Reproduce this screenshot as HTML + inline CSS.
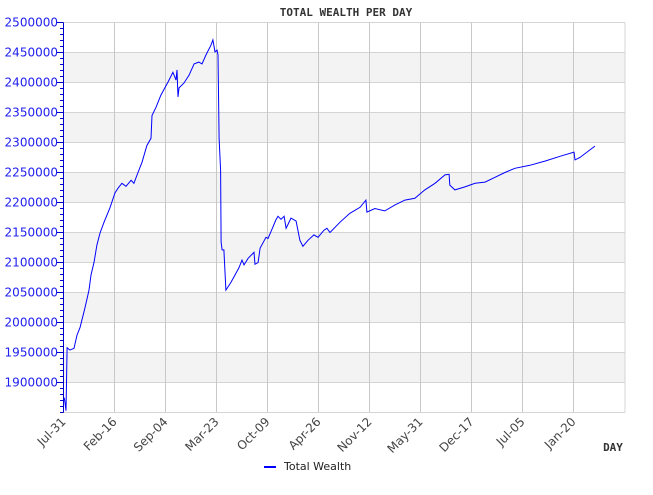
<!DOCTYPE html>
<html><head><meta charset="utf-8"><style>
body{margin:0;background:#fff;width:653px;height:495px;overflow:hidden}
svg{display:block;font-family:"DejaVu Sans","Liberation Sans",sans-serif}
</style></head><body>
<svg id="c" width="653" height="495"></svg>
<script>
const days=[0,4,10,14,25,41,53,65,84,100,108,120,131,143,159,182,202,214,229,245,265,276,292,308,327,343,347,363,382,410,429,441,445,449,453,472,492,512,531,543,559,578,586,594,602,606,610,616,618,622,629,637,657,688,700,708,724,747,751,763,771,794,802,814,833,841,853,865,873,892,912,927,939,959,982,998,1022,1033,1045,1084,1123,1163,1186,1190,1221,1260,1300,1339,1378,1417,1457,1496,1512,1515,1535,1574,1614,1653,1692,1731,1770,1829,1888,1947,2002,2006,2025,2084];
const wealth=[1870000,1873000,1853000,1958000,1954000,1957000,1979000,1992000,2024000,2054000,2079000,2101000,2129000,2149000,2167000,2191000,2216000,2224000,2232000,2227000,2237000,2232000,2250000,2267000,2295000,2307000,2345000,2359000,2379000,2401000,2417000,2404000,2421000,2376000,2391000,2399000,2412000,2431000,2434000,2431000,2446000,2462000,2471000,2451000,2454000,2446000,2307000,2254000,2134000,2121000,2121000,2054000,2067000,2091000,2104000,2096000,2107000,2117000,2097000,2100000,2124000,2142000,2140000,2152000,2171000,2177000,2172000,2177000,2157000,2174000,2169000,2137000,2127000,2137000,2146000,2142000,2154000,2157000,2150000,2167000,2182000,2192000,2204000,2184000,2190000,2186000,2196000,2204000,2207000,2221000,2232000,2246000,2247000,2229000,2221000,2226000,2232000,2234000,2242000,2250000,2257000,2262000,2269000,2277000,2284000,2271000,2275000,2294000];
const xLabels=["Jul-31","Feb-16","Sep-04","Mar-23","Oct-09","Apr-26","Nov-12","May-31","Dec-17","Jul-05","Jan-20"];
const yTicks=[1900000,1950000,2000000,2050000,2100000,2150000,2200000,2250000,2300000,2350000,2400000,2450000,2500000];
const L=63.5,R=625,T=22.5,B=412.5,yMin=1850000,yMax=2500000,dayStep=200;
const X=d=>L+d*51/dayStep;
const Y=v=>T+(yMax-v)/(yMax-yMin)*(B-T);
const s=document.getElementById('c');const NS='http://www.w3.org/2000/svg';
function el(t,a,p){const e=document.createElementNS(NS,t);for(const k in a)e.setAttribute(k,a[k]);(p||s).appendChild(e);return e;}
el('rect',{x:L,y:T,width:R-L,height:B-T,fill:'#fff'});
for(let v=1900000;v<yMax;v+=100000){const b=el('rect',{x:L,y:Y(v+50000),width:R-L,height:Y(v)-Y(v+50000),fill:'#f3f3f3'});
}
yTicks.forEach(v=>{const g=el('line',{x1:L,x2:R,y1:Y(v),y2:Y(v),stroke:'#d4d4d4','stroke-width':1});

const t=el('text',{x:58,y:Y(v)+4,'text-anchor':'end','font-size':12,fill:'#2020ee'});t.textContent=v;

el('line',{x1:57,x2:L,y1:Y(v),y2:Y(v),stroke:'#00c','stroke-width':1});});
for(let v=yMin;v<=yMax;v+=10000){el('line',{x1:60,x2:L,y1:Y(v),y2:Y(v),stroke:'#00c','stroke-width':1});}
xLabels.forEach((lab,i)=>{const x=X(i*dayStep);
if(i>0){const g=el('line',{x1:x,x2:x,y1:T,y2:B,stroke:'#c8c8c8','stroke-width':1});
}
const t=el('text',{x:x+3,y:B+10,'text-anchor':'end','font-size':12,fill:'#444',transform:`rotate(-45 ${x+3} ${B+10})`});t.textContent=lab;
});
el('line',{x1:R,x2:R,y1:T,y2:B,stroke:'#d4d4d4'});
el('line',{x1:L,x2:R,y1:B,y2:B,stroke:'#d4d4d4'});
el('line',{x1:L,x2:L,y1:T,y2:B,stroke:'#00c'});
const p=el('polyline',{points:days.map((d,i)=>X(d).toFixed(1)+','+Y(wealth[i]).toFixed(1)).join(' '),fill:'none',stroke:'#0000ff','stroke-width':1});

const ti=el('text',{x:346,y:16,'text-anchor':'middle','font-size':11,'font-weight':'bold',fill:'#333','font-family':'DejaVu Sans Mono,Liberation Mono,monospace'});ti.textContent='TOTAL WEALTH PER DAY';

const xt=el('text',{x:613,y:451,'text-anchor':'middle','font-size':11,'font-weight':'bold',fill:'#333','font-family':'DejaVu Sans Mono,Liberation Mono,monospace'});xt.textContent='DAY';

const lg=el('g',{});
el('line',{x1:264,x2:276,y1:467,y2:467,stroke:'#0000ff','stroke-width':2},lg);
const lt=el('text',{x:284,y:470,'font-size':11,fill:'#222'},lg);lt.textContent='Total Wealth';
</script>
</body></html>
